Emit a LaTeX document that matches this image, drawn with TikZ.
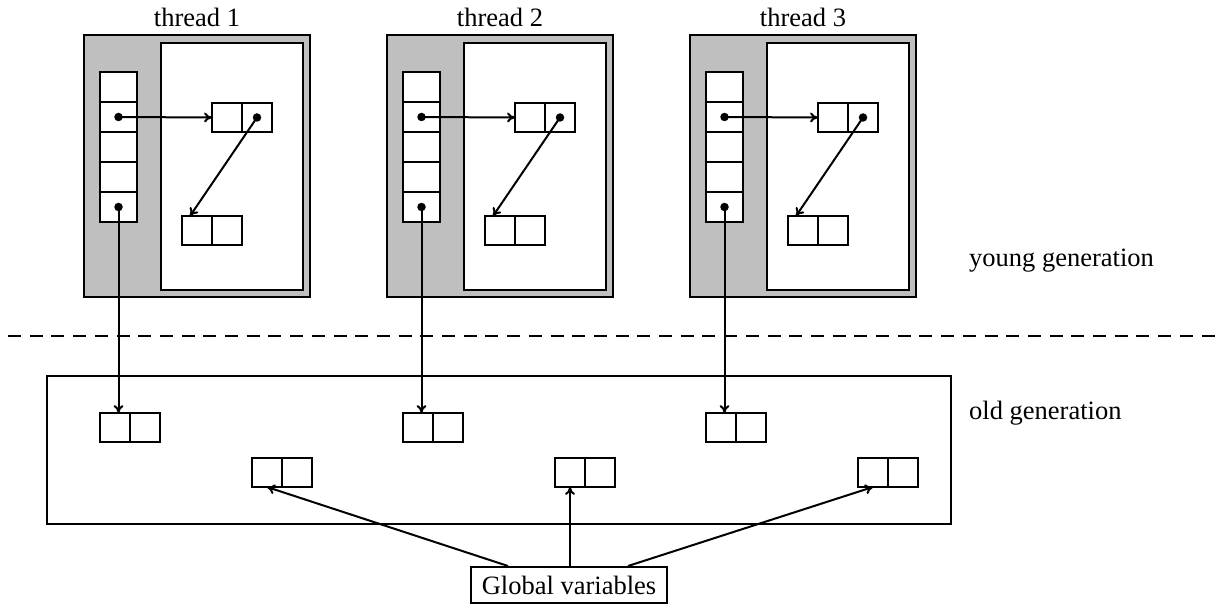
\documentclass[tikz,border=0pt]{standalone}
\usepackage{fontspec}
\setmainfont{Liberation Serif}
\usetikzlibrary{arrows.meta,calc}
\begin{document}
\begin{tikzpicture}[x=1pt,y=-1pt,
  box/.style={draw,line width=2.5pt,inner sep=0pt,outer sep=0pt},
  cell/.style={box,fill=white,minimum width=37pt,minimum height=30pt},
  pair/.style={box,fill=white,minimum width=60pt,minimum height=29pt},
  link/.style={line width=2pt,-{To[length=8pt,width=10pt]}},
  dot/.style={circle,fill=black,inner sep=0pt,minimum size=8.5pt},
  lbl/.style={font=\fontsize{26.5}{31}\selectfont,inner sep=0pt}]
\useasboundingbox (0,0) rectangle (1216,604);
% threads
\foreach \i/\dx in {1/0,2/303,3/606}{
  \begin{scope}[xshift=\dx pt]
    \node[lbl,anchor=base] (th\i) at (197,27) {thread \i};
    \node[box,fill=black!25,minimum width=226pt,minimum height=262pt] (o\i) at (197,166) {};
    \node[box,fill=white,minimum width=142pt,minimum height=247pt] (in\i) at (232,166.5) {};
    \node[cell] (sa\i) at (118.5,87) {};
    \node[cell] (sb\i) at (118.5,117) {};
    \node[cell] (sc\i) at (118.5,147) {};
    \node[cell] (sd\i) at (118.5,177) {};
    \node[cell] (se\i) at (118.5,207) {};
    \node[pair] (up\i) at (242,117.5) {};
    \draw[line width=2pt] (up\i.north) -- (up\i.south);
    \node[pair] (lo\i) at (212,230.5) {};
    \draw[line width=2pt] (lo\i.north) -- (lo\i.south);
    \node[dot] (db\i) at (sb\i.center) {};
    \node[dot] (de\i) at (se\i.center) {};
    \node[dot] (du\i) at ($(up\i.center)+(15,0)$) {};
    \coordinate (tg\i) at ($(lo\i.north west)+(8,0)$);
    \draw[link] (db\i.center) -- (up\i.west);
    \draw[link] (du\i.center) -- (tg\i);
  \end{scope}
}
% dashed separator
\coordinate (dashL) at (8,336);
\coordinate (dashR) at (1216,336);
\draw[line width=2pt,dash pattern=on 13pt off 8.7pt] (dashL) -- (dashR);
\node[lbl,anchor=base west] (young) at (969,266) {young generation};
\node[lbl,anchor=base west] (old) at (969,419) {old generation};
% old generation
\node[box,minimum width=904pt,minimum height=148pt] (og) at (499,450) {};
\foreach \i/\dx in {1/0,2/303,3/606}{
  \begin{scope}[xshift=\dx pt]
    \node[pair] (op\i) at (130,427.5) {};
    \draw[line width=2pt] (op\i.north) -- (op\i.south);
    \node[pair] (lp\i) at (282,472.5) {};
    \draw[line width=2pt] (lp\i.north) -- (lp\i.south);
    \coordinate (lt\i) at ($(lp\i.south)+(-15,0)$);
  \end{scope}
  \draw[link] (de\i.center) -- (de\i.center |- op\i.north);
}
% global variables
\node[draw,line width=2pt,lbl,minimum width=196pt,minimum height=36pt] (gv) at (569,585) {Global variables};
\coordinate (ga) at ($(gv.north)+(-61,0)$);
\coordinate (gb) at (lt2 |- gv.north);
\coordinate (gc) at ($(gv.north)+(59,0)$);
\draw[link] (ga) -- (lt1);
\draw[link] (gb) -- (lt2);
\draw[link] (gc) -- (lt3);
\end{tikzpicture}
\end{document}
